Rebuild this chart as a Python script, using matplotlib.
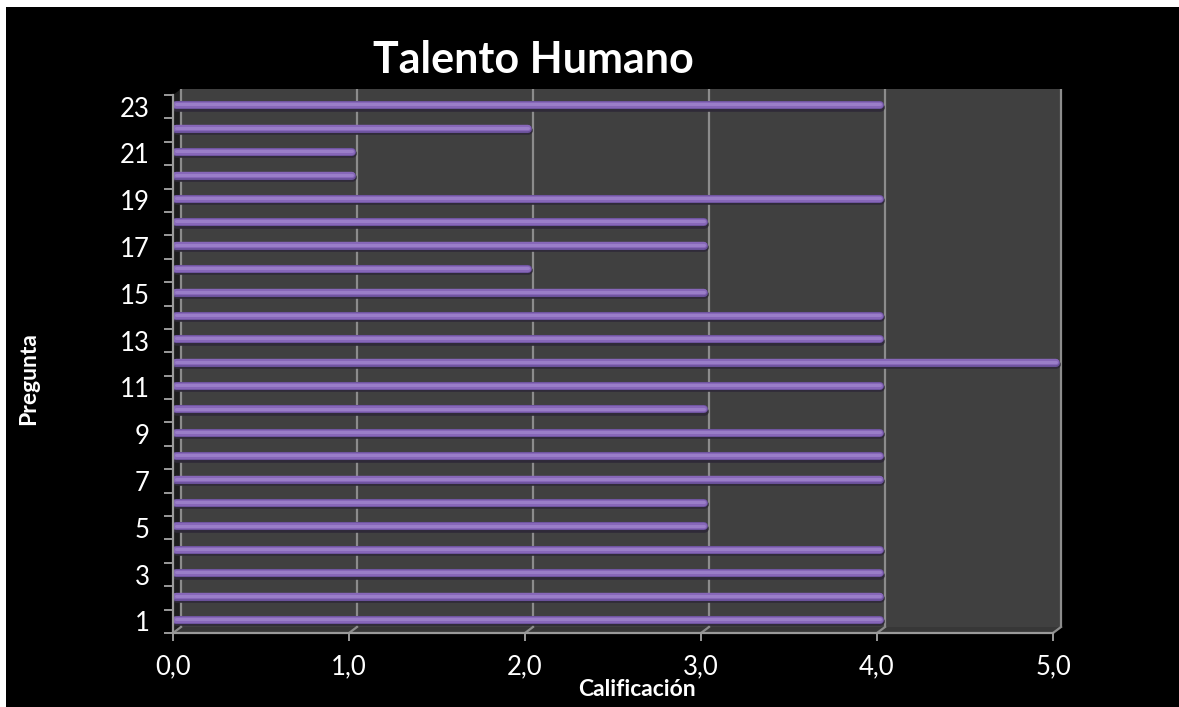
import matplotlib
matplotlib.use("Agg")
import matplotlib.pyplot as plt
import matplotlib.transforms as mtransforms
from matplotlib.patches import Rectangle, Polygon

# --- data ---------------------------------------------------------------
preguntas = list(range(1, 24))
calificacion = [4, 4, 4, 4, 3, 3, 4, 4, 4, 3, 4, 5, 4, 4, 3, 2, 3, 3, 4, 1, 1, 2, 4]
x_ticks = [0, 1, 2, 3, 4, 5]
x_tick_labels = ["0,0", "1,0", "2,0", "3,0", "4,0", "5,0"]
y_label_ticks = list(range(1, 24, 2))

title = "Talento Humano"
x_title = "Calificación"
y_title = "Pregunta"

# --- style ---------------------------------------------------------------
FONT = "Lato"
W, H, DPI = 1179, 707, 100
wall = "#404040"
floor = "#373737"
grid_c = "#8c8c8c"
axis_c = "#9a9a9a"

fig = plt.figure(figsize=(W / DPI, H / DPI), dpi=DPI, facecolor="white")
# black chart area inside a thin white margin (top and left)
top_frac = 1 - 7 / H
fig.patches.append(Rectangle((6 / W, -0.05), 1.1, top_frac + 0.05,
                             transform=fig.transFigure, facecolor="black",
                             edgecolor="none", zorder=-10))

x0, x1 = 173, 1053      # pixel positions of 0 and 5
y_bot, y_top = 633, 95  # pixel positions of the front floor edge / top
ax = fig.add_axes([x0 / W, (H - y_bot) / H, (x1 - x0) / W, (y_bot - y_top) / H])
ax.set_facecolor("none")
ax.set_xlim(0, 5)
ax.set_ylim(0.5, 23.5)

# depth offset of the back wall (pixels)
dx, dy = 8, 6
back = ax.transData + mtransforms.ScaledTranslation(dx / DPI, dy / DPI, fig.dpi_scale_trans)

# back wall
ax.add_patch(Rectangle((0, 0.5), 5, 23.0, transform=back, facecolor=wall,
                       edgecolor="none", zorder=0, clip_on=False))
# floor
off = ax.transData
p_front = [off.transform((0, 0.5)), off.transform((5, 0.5))]
p_back = [back.transform((5, 0.5)), back.transform((0, 0.5))]
ax.add_patch(Polygon(p_front + p_back, closed=True, transform=None,
                     facecolor=floor, edgecolor="none", zorder=0.5, clip_on=False))
# left side wall
p_side = [off.transform((0, 0.5)), off.transform((0, 23.5)),
          back.transform((0, 23.5)), back.transform((0, 0.5))]
ax.add_patch(Polygon(p_side, closed=True, transform=None,
                     facecolor="#1e1e1e", edgecolor="none", zorder=0.5, clip_on=False))

# vertical gridlines on the wall and across the floor
for xv in x_ticks:
    ax.plot([xv, xv], [0.5, 23.5], transform=back, color=grid_c, lw=1.6,
            zorder=1, clip_on=False, solid_capstyle="butt")
    a = off.transform((xv, 0.5))
    b = back.transform((xv, 0.5))
    ax.plot([a[0], b[0]], [a[1], b[1]], transform=None, color=grid_c, lw=1.6,
            zorder=1, clip_on=False)

# cylinder-like bars
def shifted(px, py):
    return ax.transData + mtransforms.ScaledTranslation(px / DPI, py / DPI, fig.dpi_scale_trans)

layers = [
    ("#2f2a38", 6.2, 0.0),   # soft shadow underneath
    ("#6a519a", 5.8, 1.3),   # rim
    ("#8767b9", 4.6, 1.6),   # body
    ("#9a7ec8", 2.2, 2.2),   # highlight
]
for color, lw, py in layers:
    lc = ax.hlines(preguntas, 0, calificacion, colors=color, lw=lw,
                   capstyle="round", transform=shifted(3, py), zorder=3)
    lc.set_clip_on(False)

# spines
for s in ["top", "right"]:
    ax.spines[s].set_visible(False)
for s in ["left", "bottom"]:
    ax.spines[s].set_color(axis_c)
    ax.spines[s].set_linewidth(1.6)
    ax.spines[s].set_zorder(6)

# ticks
ax.set_xticks(x_ticks)
ax.set_xticklabels(x_tick_labels)
ax.tick_params(axis="x", colors=axis_c, length=6, width=1.4, direction="out",
               pad=9, labelcolor="white", labelsize=18.5)
for lab in ax.get_xticklabels():
    lab.set_fontfamily(FONT)

ax.set_yticks([v - 0.5 for v in preguntas] + [23.5])
ax.set_yticklabels([])
ax.tick_params(axis="y", which="major", colors=axis_c, length=6.5, width=1.4)
ax.set_yticks(y_label_ticks, minor=True)
ax.set_yticklabels([str(v) for v in y_label_ticks], minor=True)
ax.tick_params(axis="y", which="minor", length=0, pad=17, labelcolor="white",
               labelsize=18.5)
for lab in ax.get_yticklabels(minor=True):
    lab.set_fontfamily(FONT)

# titles
fig.text(533 / W, 1 - 60 / H, title, ha="center", va="center", color="white",
         fontsize=31, fontweight="bold", family=FONT)
fig.text(637 / W, 1 - 689 / H, x_title, ha="center", va="center", color="white",
         fontsize=16.5, fontweight="bold", family=FONT)
fig.text(29 / W, 1 - 379 / H, y_title, ha="center", va="center", color="white",
         fontsize=16.5, fontweight="bold", family=FONT, rotation=90)

fig.savefig("out.png", dpi=DPI, facecolor=fig.get_facecolor())
